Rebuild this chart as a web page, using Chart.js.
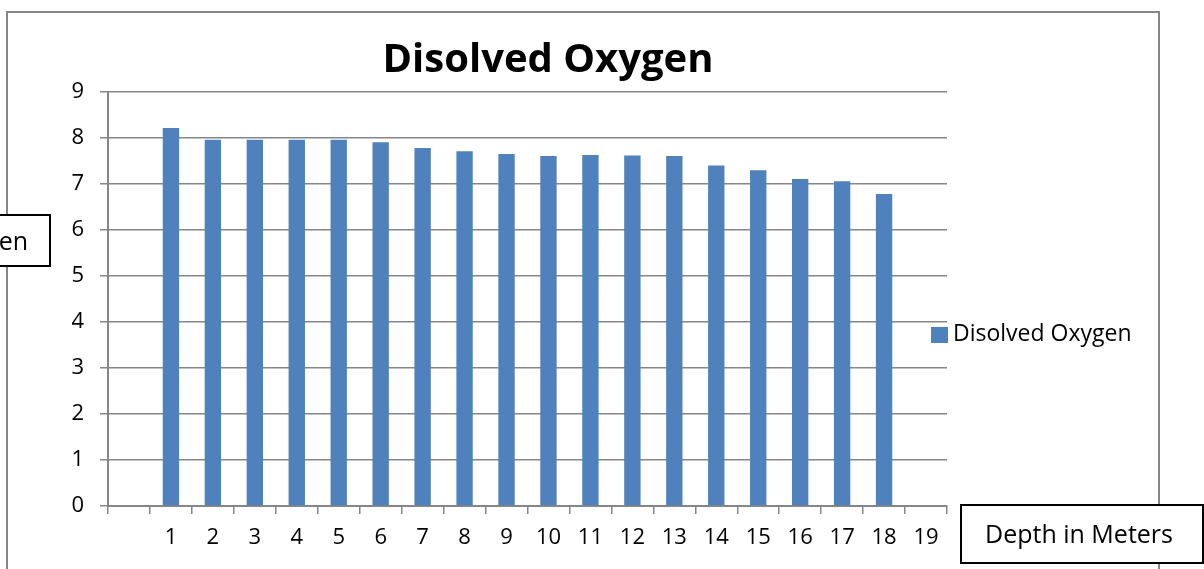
<!DOCTYPE html>
<html>
<head>
<meta charset="utf-8">
<title>Disolved Oxygen</title>
<script src="https://cdn.jsdelivr.net/npm/chart.js@4.4.1/dist/chart.umd.min.js"></script>
<style>
  html, body { margin: 0; padding: 0; background: #fff; }
  #wrap { width: 1204px; height: 569px; }
</style>
</head>
<body>
<div id="wrap"><canvas id="mycanvas" width="1204" height="569"></canvas></div>
<script>
// depth categories (first slot is blank in the original sheet)
var depths = ['', '1', '2', '3', '4', '5', '6', '7', '8', '9', '10',
  '11', '12', '13', '14', '15', '16', '17', '18', '19'];
var oxygen = [null, 8.22, 7.96, 7.96, 7.96, 7.96, 7.91, 7.78, 7.71, 7.65, 7.61,
  7.63, 7.62, 7.61, 7.40, 7.30, 7.11, 7.06, 6.78, null];
var yMin = 0;
var yMax = 9;
var yStep = 1;

var chartTitle = 'Disolved Oxygen';
var seriesName = 'Disolved Oxygen';
var xTitle = 'Depth in Meters';
var yTitle = 'Disolved Oxygen';

var FONT = "'Open Sans', sans-serif";
var GRID = '#868686';
var BAR = '#4F81BD';

// frame, title, legend and the boxed axis titles
var decor = {
  id: 'decor',
  beforeDraw: function(chart) {
    var c = chart.ctx;
    c.save();
    c.fillStyle = '#fff';
    c.fillRect(0, 0, chart.width, chart.height);
    c.strokeStyle = GRID;
    c.lineWidth = 2;
    c.strokeRect(7, 12, 1152, 580);
    c.restore();
  },
  afterDraw: function(chart) {
    var c = chart.ctx;
    c.save();

    // title
    c.fillStyle = '#000';
    c.font = 'bold 40px ' + FONT;
    c.textAlign = 'center';
    c.textBaseline = 'middle';
    c.fillText(chartTitle, 548, 61);

    // legend
    c.fillStyle = BAR;
    c.fillRect(931, 327, 17, 16);
    c.fillStyle = '#000';
    c.font = '23px ' + FONT;
    c.textAlign = 'left';
    c.fillText(seriesName, 953, 334);

    // y title box (cut off at the left edge)
    c.fillStyle = '#fff';
    c.fillRect(-200, 215, 250, 51);
    c.strokeStyle = '#000';
    c.lineWidth = 2;
    c.strokeRect(-200, 215, 250, 51);
    c.fillStyle = '#000';
    c.font = '25px ' + FONT;
    c.textAlign = 'right';
    c.fillText(yTitle, 28, 243);

    // x title box
    c.fillStyle = '#fff';
    c.fillRect(961, 505, 242, 58);
    c.strokeRect(961, 505, 242, 58);
    c.fillStyle = '#000';
    c.font = '25px ' + FONT;
    c.textAlign = 'center';
    c.fillText(xTitle, 1079, 536);

    c.restore();
  }
};

var ctx = document.getElementById('mycanvas');

var myChart = new Chart(ctx, {
  type: 'bar',
  data: {
    labels: depths,
    datasets: [{
      label: seriesName,
      data: oxygen,
      backgroundColor: BAR,
      borderWidth: 0,
      barPercentage: 0.39,
      categoryPercentage: 1.0
    }]
  },
  options: {
    responsive: false,
    animation: false,
    layout: {
      padding: { left: 0, top: 92, right: 257, bottom: 13 }
    },
    plugins: {
      legend: { display: false },
      title: { display: false },
      tooltip: { enabled: false }
    },
    scales: {
      x: {
        grid: {
          offset: true,
          drawOnChartArea: false,
          drawTicks: true,
          tickLength: 8,
          color: GRID,
          lineWidth: 1.5
        },
        border: { display: true, color: GRID, width: 2 },
        ticks: {
          color: '#000',
          font: { family: FONT, size: 22 },
          padding: 11,
          maxRotation: 0,
          autoSkip: false
        },
        afterFit: function(scale) { scale.height = 50; }
      },
      y: {
        min: yMin,
        max: yMax,
        grid: {
          color: GRID,
          lineWidth: 1.5,
          tickLength: 8
        },
        border: { display: true, color: GRID, width: 2 },
        ticks: {
          stepSize: yStep,
          color: '#000',
          font: { family: FONT, size: 22 },
          padding: 16
        },
        afterFit: function(scale) { scale.width = 108; }
      }
    }
  },
  plugins: [decor]
});
</script>
</body>
</html>
